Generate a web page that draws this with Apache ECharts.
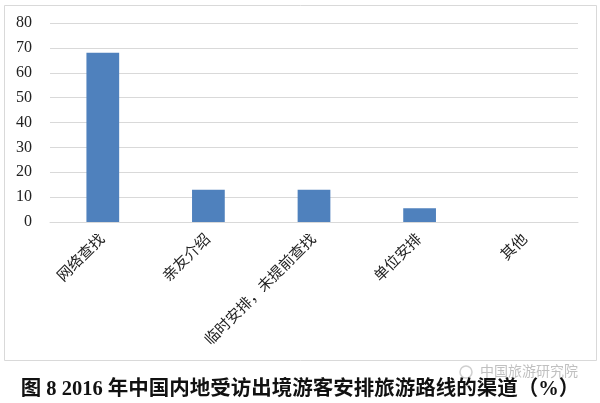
<!DOCTYPE html>
<html>
<head>
<meta charset="utf-8">
<script src="https://cdn.jsdelivr.net/npm/echarts@6/dist/echarts.min.js"></script>
<style>
  html, body { margin: 0; padding: 0; background: #fff; }
  #chart { width: 600px; height: 403px; }
</style>
</head>
<body>
<div id="chart"></div>
<script type="text/javascript">
  // 数据
  var categories = ['网络查找', '亲友介绍', '临时安排，未提前查找', '单位安排', '其他'];
  var shares = [68, 13, 13, 5.5, 0];
  var yTicks = [0, 80, 10]; // min, max, interval

  var font = "'Liberation Serif', 'Noto Sans CJK SC', serif";
  var chart = echarts.init(document.getElementById('chart'));

  var option = {
    backgroundColor: '#fff',
    animation: false,
    title: {
      text: '图 8 2016 年中国内地受访出境游客安排旅游路线的渠道（%）',
      left: 'center',
      top: 374,
      textStyle: { fontFamily: font, fontSize: 20.5, fontWeight: 'bold', color: '#111' }
    },
    graphic: [
      {
        type: 'rect',
        shape: { x: 4.5, y: 5.5, width: 592, height: 355 },
        style: { fill: 'none', stroke: '#d9d9d9', lineWidth: 1 },
        silent: true
      },
      {
        type: 'circle',
        shape: { cx: 466, cy: 372, r: 6 },
        style: { fill: 'none', stroke: 'rgba(160,160,160,0.5)', lineWidth: 1.5 },
        silent: true
      },
      {
        type: 'text',
        left: 480,
        top: 365,
        style: { text: '中国旅游研究院', fontFamily: font, fontSize: 14, fill: 'rgba(150,150,150,0.6)' },
        silent: true
      }
    ],
    grid: { left: 50, right: 22, top: 23, bottom: 181 },
    xAxis: {
      type: 'category',
      data: categories,
      axisLine: { lineStyle: { color: '#d9d9d9' } },
      axisTick: { show: false },
      axisLabel: {
        rotate: 45,
        interval: 0,
        margin: 15,
        fontFamily: font,
        fontSize: 15,
        color: '#222'
      }
    },
    yAxis: {
      type: 'value',
      min: yTicks[0],
      max: yTicks[1],
      interval: yTicks[2],
      axisLine: { show: false },
      axisTick: { show: false },
      splitLine: { lineStyle: { color: '#d9d9d9' } },
      axisLabel: { margin: 18, fontFamily: font, fontSize: 16, color: '#222' }
    },
    series: [
      {
        type: 'bar',
        data: shares,
        barWidth: '31%',
        itemStyle: { color: '#4f81bd' }
      }
    ]
  };
  chart.setOption(option);
</script>
</body>
</html>
